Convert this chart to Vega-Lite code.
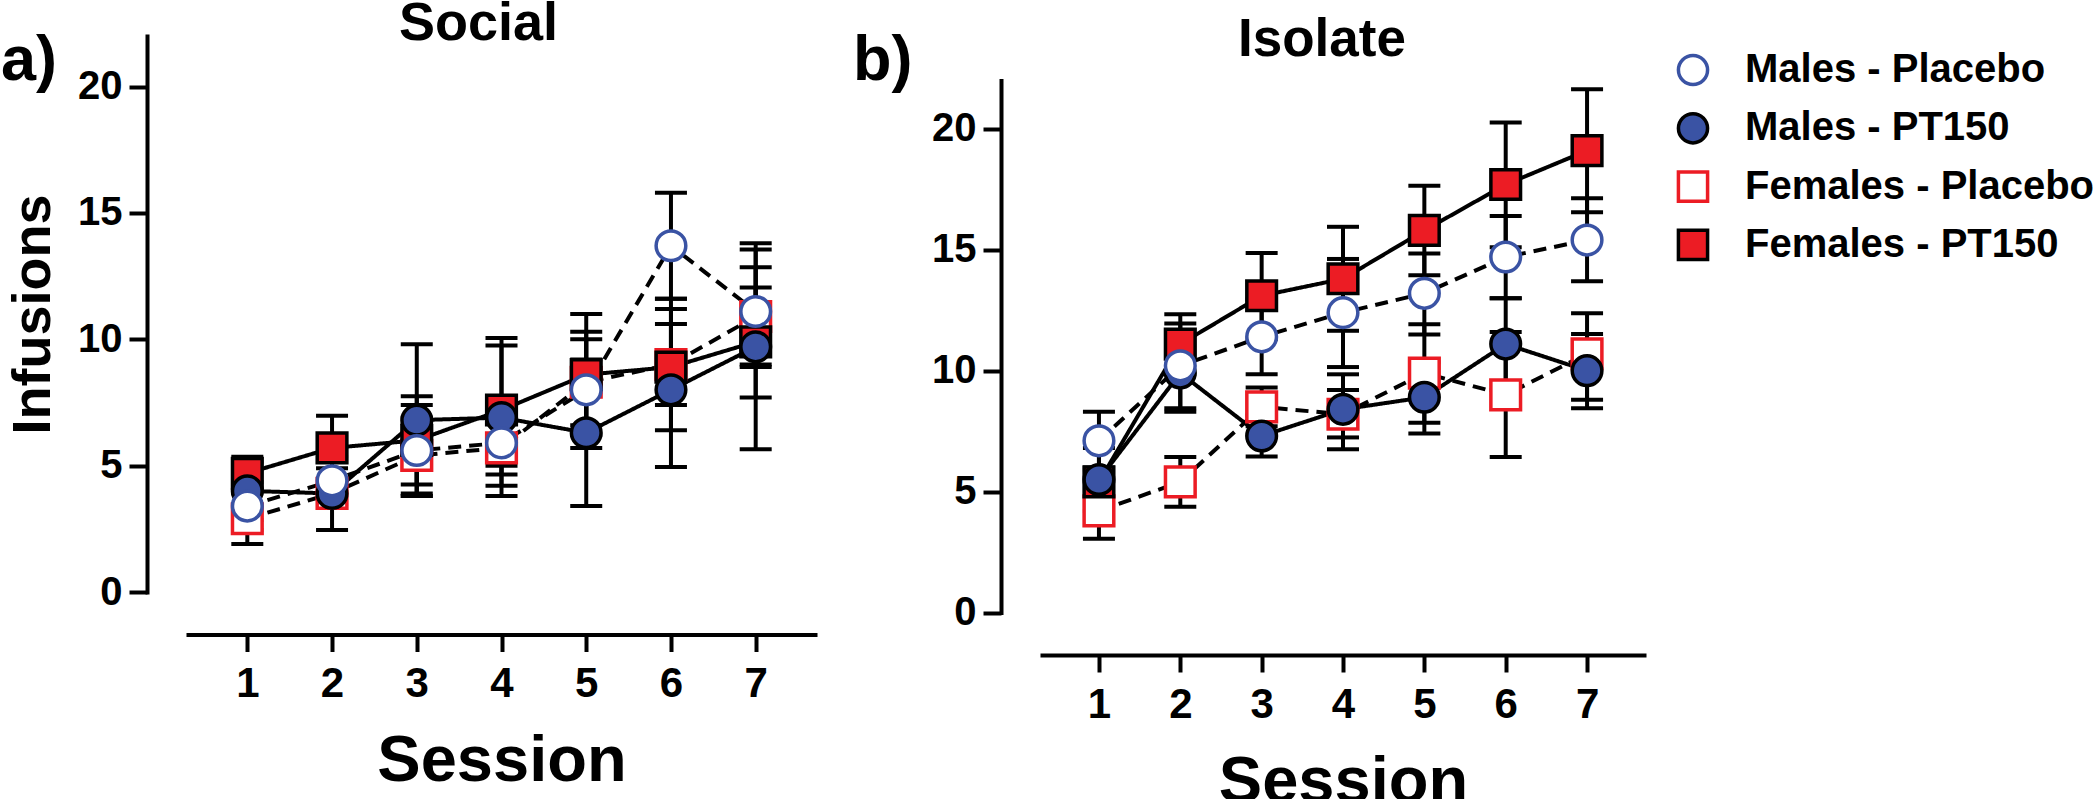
{
  "$schema": "https://vega.github.io/schema/vega-lite/v6.json",
  "background": "white",
  "padding": {"left": 0, "top": -3, "right": 0, "bottom": 0},
  "config": {
    "font": "Liberation Sans",
    "view": {"stroke": null},
    "axis": {
      "labelFont": "Liberation Sans", "titleFont": "Liberation Sans",
      "labelFontWeight": "bold", "titleFontWeight": "bold",
      "labelColor": "black", "titleColor": "black",
      "domainColor": "black", "tickColor": "black",
      "domainWidth": 4, "tickWidth": 4, "grid": false, "domainCap": "square"
    },
    "axisBottom": {"offset": 42.5, "tickSize": 17, "labelPadding": 12, "labelFontSize": 42, "titleFontSize": 65, "titlePadding": 25, "format": "d", "labelFlush": false},
    "axisY": {"offset": 41, "tickSize": 18, "labelPadding": 7, "labelFontSize": 40, "titleFontSize": 54, "titlePadding": 17},
    "title": {"font": "Liberation Sans", "fontWeight": "bold", "color": "black"},
    "legend": {"orient": "right", "offset": 15, "padding": 14, "labelFontSize": 40, "labelFontWeight": "bold", "labelColor": "black", "labelFont": "Liberation Sans", "symbolSize": 850, "symbolStrokeWidth": 3.5, "rowPadding": 14.3, "labelOffset": 32, "labelLimit": 500}
  },
  "datasets": {
    "social": [
      {"session": 1, "group": "Females - Placebo", "mean": 2.9, "lo": 1.9, "hi": 3.9},
      {"session": 2, "group": "Females - Placebo", "mean": 3.9, "lo": 3.45, "hi": 4.35},
      {"session": 3, "group": "Females - Placebo", "mean": 5.4, "lo": 3.9, "hi": 6.9},
      {"session": 4, "group": "Females - Placebo", "mean": 5.7, "lo": 4.2, "hi": 7.2},
      {"session": 5, "group": "Females - Placebo", "mean": 8.3, "lo": 6.6, "hi": 10.0},
      {"session": 6, "group": "Females - Placebo", "mean": 9.0, "lo": 6.4, "hi": 11.6},
      {"session": 7, "group": "Females - Placebo", "mean": 10.9, "lo": 9.0, "hi": 12.85},
      {"session": 1, "group": "Females - PT150", "mean": 4.7, "lo": 4.05, "hi": 5.35},
      {"session": 2, "group": "Females - PT150", "mean": 5.7, "lo": 4.43, "hi": 6.97},
      {"session": 3, "group": "Females - PT150", "mean": 6.0, "lo": 4.25, "hi": 7.75},
      {"session": 4, "group": "Females - PT150", "mean": 7.2, "lo": 4.65, "hi": 9.75},
      {"session": 5, "group": "Females - PT150", "mean": 8.6, "lo": 6.2, "hi": 11.0},
      {"session": 6, "group": "Females - PT150", "mean": 8.9, "lo": 7.4, "hi": 10.6},
      {"session": 7, "group": "Females - PT150", "mean": 9.9, "lo": 7.7, "hi": 12.05},
      {"session": 1, "group": "Males - PT150", "mean": 4.0, "lo": 2.85, "hi": 5.15},
      {"session": 2, "group": "Males - PT150", "mean": 3.9, "lo": 2.45, "hi": 5.35},
      {"session": 3, "group": "Males - PT150", "mean": 6.8, "lo": 3.8, "hi": 9.8},
      {"session": 4, "group": "Males - PT150", "mean": 6.9, "lo": 3.8, "hi": 10.05},
      {"session": 5, "group": "Males - PT150", "mean": 6.3, "lo": 3.4, "hi": 9.2},
      {"session": 6, "group": "Males - PT150", "mean": 8.0, "lo": 4.95, "hi": 11.2},
      {"session": 7, "group": "Males - PT150", "mean": 9.7, "lo": 5.65, "hi": 13.8},
      {"session": 1, "group": "Males - Placebo", "mean": 3.4, "lo": 2.45, "hi": 4.35},
      {"session": 2, "group": "Males - Placebo", "mean": 4.4, "lo": 3.9, "hi": 4.9},
      {"session": 3, "group": "Males - Placebo", "mean": 5.6, "lo": 3.8, "hi": 7.4},
      {"session": 4, "group": "Males - Placebo", "mean": 5.9, "lo": 5.0, "hi": 6.8},
      {"session": 5, "group": "Males - Placebo", "mean": 8.0, "lo": 5.7, "hi": 10.3},
      {"session": 6, "group": "Males - Placebo", "mean": 13.7, "lo": 11.6, "hi": 15.8},
      {"session": 7, "group": "Males - Placebo", "mean": 11.1, "lo": 8.9, "hi": 13.55}
    ],
    "isolate": [
      {"session": 1, "group": "Females - Placebo", "mean": 4.2, "lo": 3.05, "hi": 5.35},
      {"session": 2, "group": "Females - Placebo", "mean": 5.4, "lo": 4.37, "hi": 6.43},
      {"session": 3, "group": "Females - Placebo", "mean": 8.5, "lo": 7.7, "hi": 9.3},
      {"session": 4, "group": "Females - Placebo", "mean": 8.2, "lo": 7.24, "hi": 9.2},
      {"session": 5, "group": "Females - Placebo", "mean": 9.9, "lo": 7.85, "hi": 11.92},
      {"session": 6, "group": "Females - Placebo", "mean": 9.0, "lo": 6.43, "hi": 11.6},
      {"session": 7, "group": "Females - Placebo", "mean": 10.7, "lo": 8.8, "hi": 12.37},
      {"session": 1, "group": "Females - PT150", "mean": 5.4, "lo": 4.8, "hi": 6.0},
      {"session": 2, "group": "Females - PT150", "mean": 11.1, "lo": 9.87, "hi": 12.33},
      {"session": 3, "group": "Females - PT150", "mean": 13.1, "lo": 11.3, "hi": 14.87},
      {"session": 4, "group": "Females - PT150", "mean": 13.8, "lo": 11.65, "hi": 15.95},
      {"session": 5, "group": "Females - PT150", "mean": 15.8, "lo": 13.95, "hi": 17.65},
      {"session": 6, "group": "Females - PT150", "mean": 17.7, "lo": 15.1, "hi": 20.26},
      {"session": 7, "group": "Females - PT150", "mean": 19.1, "lo": 16.55, "hi": 21.64},
      {"session": 1, "group": "Males - PT150", "mean": 5.5, "lo": 4.2, "hi": 6.8},
      {"session": 2, "group": "Males - PT150", "mean": 9.9, "lo": 8.3, "hi": 11.5},
      {"session": 3, "group": "Males - PT150", "mean": 7.3, "lo": 6.45, "hi": 8.15},
      {"session": 4, "group": "Males - PT150", "mean": 8.4, "lo": 6.75, "hi": 9.85},
      {"session": 5, "group": "Males - PT150", "mean": 8.9, "lo": 7.4, "hi": 10.35},
      {"session": 6, "group": "Males - PT150", "mean": 11.1, "lo": 9.2, "hi": 13.0},
      {"session": 7, "group": "Males - PT150", "mean": 10.0, "lo": 8.45, "hi": 11.52},
      {"session": 1, "group": "Males - Placebo", "mean": 7.1, "lo": 5.9, "hi": 8.3},
      {"session": 2, "group": "Males - Placebo", "mean": 10.2, "lo": 8.45, "hi": 11.95},
      {"session": 3, "group": "Males - Placebo", "mean": 11.4, "lo": 9.85, "hi": 12.95},
      {"session": 4, "group": "Males - Placebo", "mean": 12.4, "lo": 10.15, "hi": 14.62},
      {"session": 5, "group": "Males - Placebo", "mean": 13.2, "lo": 11.5, "hi": 14.85},
      {"session": 6, "group": "Males - Placebo", "mean": 14.7, "lo": 13.0, "hi": 16.4},
      {"session": 7, "group": "Males - Placebo", "mean": 15.4, "lo": 13.7, "hi": 17.13}
    ]
  },
  "spacing": 37,
  "hconcat": [
    {
      "width": 627, "height": 556,
      "title": {"text": "Social", "fontSize": 54, "anchor": "middle", "dx": -23, "baseline": "alphabetic", "offset": -64.5},
      "data": {"name": "social"},
      "resolve": {"axis": {"x": "independent"}},
      "layer": [
        {"mark": {"type": "rule", "strokeWidth": 4, "color": "black"},
         "encoding": {
           "x": {"field": "session", "type": "quantitative", "scale": {"domain": [0.3, 7.7], "nice": false, "zero": false}, "axis": {"orient": "bottom", "title": "Session", "values": [1, 2, 3, 4, 5, 6, 7]}},
           "y": {"field": "lo", "type": "quantitative", "scale": {"domain": [0, 22], "nice": false}, "axis": {"title": "Infusions", "values": [0, 5, 10, 15, 20]}}, "y2": {"field": "hi"}}},
        {"mark": {"type": "tick", "orient": "horizontal", "size": 32, "thickness": 4, "color": "black", "opacity": 1},
         "encoding": {
           "x": {"field": "session", "type": "quantitative", "scale": {"domain": [0.3, 7.7], "nice": false, "zero": false}, "axis": null},
           "y": {"field": "lo", "type": "quantitative", "scale": {"domain": [0, 22], "nice": false}, "axis": {"title": "Infusions", "values": [0, 5, 10, 15, 20]}}}},
        {"mark": {"type": "tick", "orient": "horizontal", "size": 32, "thickness": 4, "color": "black", "opacity": 1},
         "encoding": {
           "x": {"field": "session", "type": "quantitative", "scale": {"domain": [0.3, 7.7], "nice": false, "zero": false}, "axis": null},
           "y": {"field": "hi", "type": "quantitative", "scale": {"domain": [0, 22], "nice": false}, "axis": {"title": "Infusions", "values": [0, 5, 10, 15, 20]}}}},
        {"mark": {"type": "line", "strokeWidth": 4, "color": "black"},
         "encoding": {
           "x": {"field": "session", "type": "quantitative", "scale": {"domain": [0.3, 7.7], "nice": false, "zero": false}, "axis": null},
           "y": {"field": "mean", "type": "quantitative", "scale": {"domain": [0, 22], "nice": false}, "axis": {"title": "Infusions", "values": [0, 5, 10, 15, 20]}},
           "detail": {"field": "group", "type": "nominal"},
           "strokeDash": {"field": "group", "type": "nominal", "scale": {"domain": ["Females - Placebo", "Females - PT150", "Males - Placebo", "Males - PT150"], "range": [[13, 8], [1, 0], [13, 8], [1, 0]]}, "legend": null}
         }},
        {"mark": {"type": "point", "filled": true, "opacity": 1, "size": 880, "strokeWidth": 3.5},
         "encoding": {
           "x": {"field": "session", "type": "quantitative", "scale": {"domain": [0.3, 7.7], "nice": false, "zero": false}, "axis": {"orient": "top", "offset": 0, "domain": false, "ticks": false, "labels": false, "title": "a)", "titleFontSize": 63, "titleAngle": 0, "titleAlign": "left", "titleBaseline": "alphabetic", "titleX": -187.5, "titleY": 43.5}},
           "y": {"field": "mean", "type": "quantitative", "scale": {"domain": [0, 22], "nice": false}, "axis": {"title": "Infusions", "values": [0, 5, 10, 15, 20]}},
           "shape": {"field": "group", "type": "nominal", "scale": {"domain": ["Males - Placebo", "Males - PT150", "Females - Placebo", "Females - PT150"], "range": ["circle", "circle", "square", "square"]}, "legend": {"title": null}},
           "fill": {"field": "group", "type": "nominal", "scale": {"domain": ["Males - Placebo", "Males - PT150", "Females - Placebo", "Females - PT150"], "range": ["white", "#3A53A4", "white", "#EC1C24"]}, "legend": {"title": null}},
           "stroke": {"field": "group", "type": "nominal", "scale": {"domain": ["Males - Placebo", "Males - PT150", "Females - Placebo", "Females - PT150"], "range": ["#3A53A4", "black", "#EC1C24", "black"]}, "legend": {"title": null}}
         }}
      ]
    },
    {
      "width": 602, "height": 576.5,
      "title": {"text": "Isolate", "fontSize": 53, "anchor": "middle", "dx": -21, "baseline": "alphabetic", "offset": -79.5},
      "data": {"name": "isolate"},
      "resolve": {"axis": {"x": "independent"}},
      "layer": [
        {"mark": {"type": "rule", "strokeWidth": 4, "color": "black"},
         "encoding": {
           "x": {"field": "session", "type": "quantitative", "scale": {"domain": [0.3, 7.7], "nice": false, "zero": false}, "axis": {"orient": "bottom", "title": "Session", "values": [1, 2, 3, 4, 5, 6, 7]}},
           "y": {"field": "lo", "type": "quantitative", "scale": {"domain": [0, 23.84], "nice": false}, "axis": {"title": null, "values": [0, 5, 10, 15, 20], "domainDash": [532, 200]}}, "y2": {"field": "hi"}}},
        {"mark": {"type": "tick", "orient": "horizontal", "size": 32, "thickness": 4, "color": "black", "opacity": 1},
         "encoding": {
           "x": {"field": "session", "type": "quantitative", "scale": {"domain": [0.3, 7.7], "nice": false, "zero": false}, "axis": null},
           "y": {"field": "lo", "type": "quantitative", "scale": {"domain": [0, 23.84], "nice": false}, "axis": {"title": null, "values": [0, 5, 10, 15, 20], "domainDash": [532, 200]}}}},
        {"mark": {"type": "tick", "orient": "horizontal", "size": 32, "thickness": 4, "color": "black", "opacity": 1},
         "encoding": {
           "x": {"field": "session", "type": "quantitative", "scale": {"domain": [0.3, 7.7], "nice": false, "zero": false}, "axis": null},
           "y": {"field": "hi", "type": "quantitative", "scale": {"domain": [0, 23.84], "nice": false}, "axis": {"title": null, "values": [0, 5, 10, 15, 20], "domainDash": [532, 200]}}}},
        {"mark": {"type": "line", "strokeWidth": 4, "color": "black"},
         "encoding": {
           "x": {"field": "session", "type": "quantitative", "scale": {"domain": [0.3, 7.7], "nice": false, "zero": false}, "axis": null},
           "y": {"field": "mean", "type": "quantitative", "scale": {"domain": [0, 23.84], "nice": false}, "axis": {"title": null, "values": [0, 5, 10, 15, 20], "domainDash": [532, 200]}},
           "detail": {"field": "group", "type": "nominal"},
           "strokeDash": {"field": "group", "type": "nominal", "scale": {"domain": ["Females - Placebo", "Females - PT150", "Males - Placebo", "Males - PT150"], "range": [[13, 8], [1, 0], [13, 8], [1, 0]]}, "legend": null}
         }},
        {"mark": {"type": "point", "filled": true, "opacity": 1, "size": 880, "strokeWidth": 3.5},
         "encoding": {
           "x": {"field": "session", "type": "quantitative", "scale": {"domain": [0.3, 7.7], "nice": false, "zero": false}, "axis": {"orient": "top", "offset": 0, "domain": false, "ticks": false, "labels": false, "title": "b)", "titleFontSize": 63, "titleAngle": 0, "titleAlign": "left", "titleBaseline": "alphabetic", "titleX": -189.5, "titleY": 43.5}},
           "y": {"field": "mean", "type": "quantitative", "scale": {"domain": [0, 23.84], "nice": false}, "axis": {"title": null, "values": [0, 5, 10, 15, 20], "domainDash": [532, 200]}},
           "shape": {"field": "group", "type": "nominal", "scale": {"domain": ["Males - Placebo", "Males - PT150", "Females - Placebo", "Females - PT150"], "range": ["circle", "circle", "square", "square"]}, "legend": {"title": null}},
           "fill": {"field": "group", "type": "nominal", "scale": {"domain": ["Males - Placebo", "Males - PT150", "Females - Placebo", "Females - PT150"], "range": ["white", "#3A53A4", "white", "#EC1C24"]}, "legend": {"title": null}},
           "stroke": {"field": "group", "type": "nominal", "scale": {"domain": ["Males - Placebo", "Males - PT150", "Females - Placebo", "Females - PT150"], "range": ["#3A53A4", "black", "#EC1C24", "black"]}, "legend": {"title": null}}
         }}
      ]
    }
  ]
}
